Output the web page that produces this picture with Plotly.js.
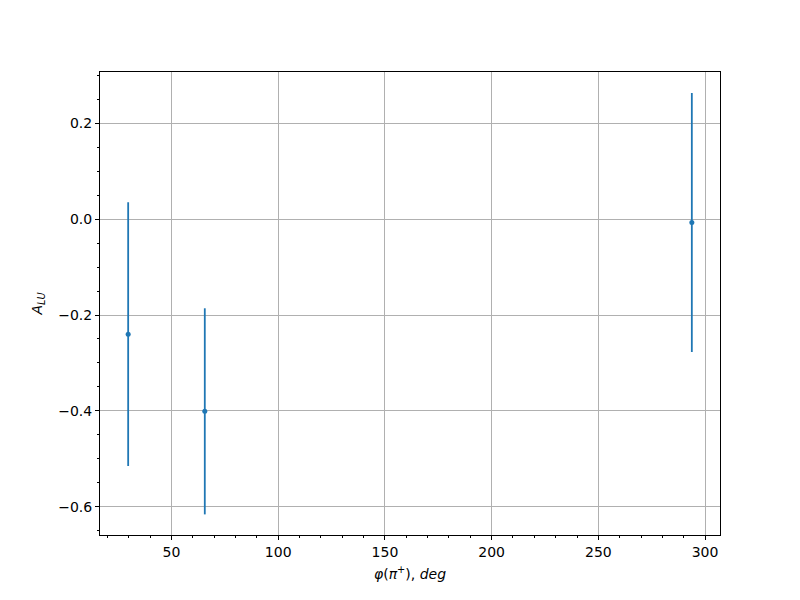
<!DOCTYPE html>
<html>
<head>
<meta charset="utf-8">
<script src="https://cdn.plot.ly/plotly-3.0.1.min.js"></script>
<style>body{margin:0;padding:0;background:#fff;}#chart{width:800px;height:600px;}</style>
</head>
<body>
<div id="chart"></div>
<script>
// Data
const phi = [29.7, 65.6, 293.8];
const alu = [-0.240, -0.401, -0.007];
const aluErr = [0.275, 0.215, 0.270];

const xTickVals = [50, 100, 150, 200, 250, 300];
const yTickVals = [-0.6, -0.4, -0.2, 0.0, 0.2];

const color = '#1f77b4';
const font = {family: 'DejaVu Sans, sans-serif', size: 14, color: '#000'};

const trace = {
  x: phi,
  y: alu,
  type: 'scatter',
  mode: 'markers',
  marker: {color: color, size: 5},
  error_y: {type: 'data', array: aluErr, visible: true, color: color, thickness: 1.8, width: 0},
  showlegend: false
};

const layout = {
  width: 800, height: 600,
  paper_bgcolor: '#fff', plot_bgcolor: '#fff',
  margin: {l: 100, r: 80, t: 72, b: 65},
  font: font,
  xaxis: {
    range: [16.5, 307.0],
    tickvals: xTickVals,
    ticks: 'outside', ticklen: 4, tickwidth: 1, tickcolor: '#000',
    showline: true, linecolor: '#000', linewidth: 1, mirror: true,
    showgrid: true, gridcolor: '#b0b0b0', gridwidth: 1,
    zeroline: false,
    minor: {dtick: 10, tick0: 0, ticks: 'outside', ticklen: 2, tickcolor: '#000', showgrid: false},
    tickfont: font,
    title: {text: '<i>φ</i>(<i>π</i><sup>+</sup>), <i>deg</i>', font: font, standoff: 10}
  },
  yaxis: {
    range: [-0.659, 0.307],
    tickvals: yTickVals,
    tickformat: '.1f',
    ticks: 'outside', ticklen: 4, tickwidth: 1, tickcolor: '#000',
    showline: true, linecolor: '#000', linewidth: 1, mirror: true,
    showgrid: true, gridcolor: '#b0b0b0', gridwidth: 1,
    zeroline: false,
    minor: {dtick: 0.05, tick0: 0, ticks: 'outside', ticklen: 2, tickcolor: '#000', showgrid: false},
    tickfont: font,
    title: {text: '<i>A</i><sub><i>LU</i></sub>', font: font, standoff: 12}
  }
};

Plotly.newPlot('chart', [trace], layout, {staticPlot: true, displayModeBar: false});
</script>
</body>
</html>
